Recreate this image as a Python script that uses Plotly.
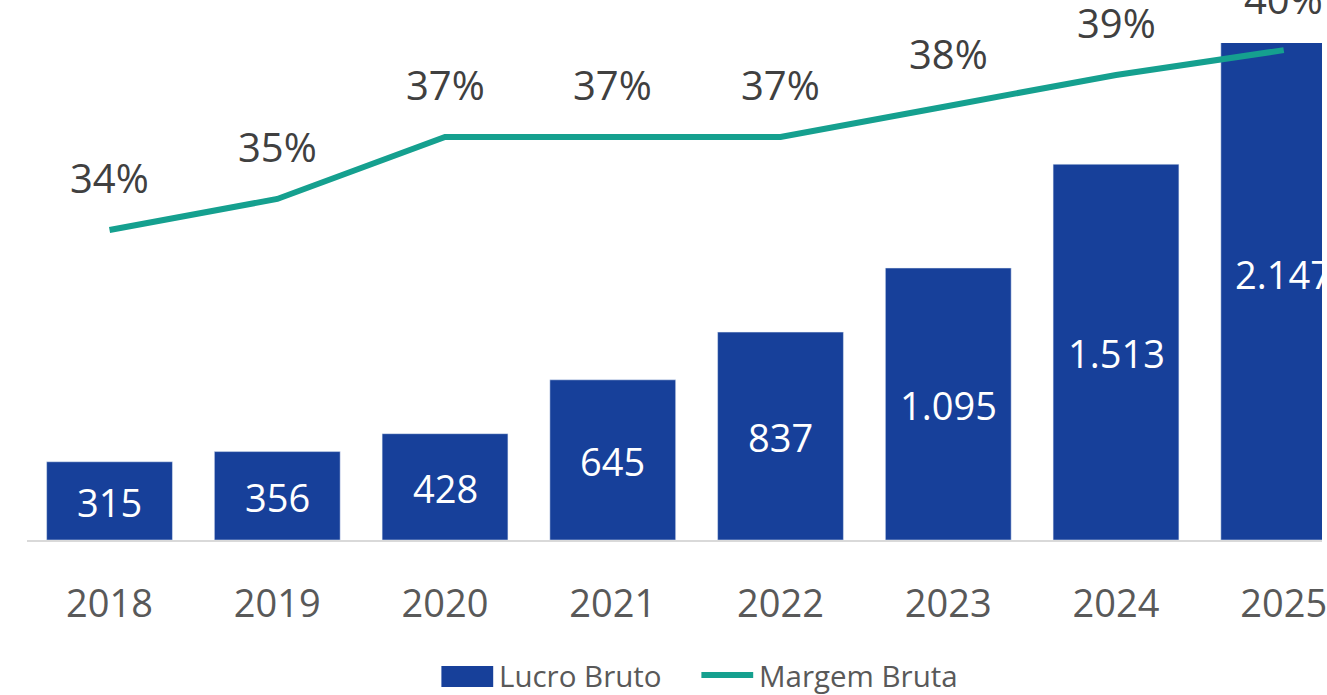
import plotly.graph_objects as go

years = ["2018", "2019", "2020", "2021", "2022", "2023", "2024", "2025"]
lucro_bruto = [315, 356, 428, 645, 837, 1095, 1513, 2147]
margem_bruta = [0.340, 0.350, 0.370, 0.370, 0.370, 0.380, 0.390, 0.398]

BAR = "#17409A"
LINE = "#15A08F"
W, H = 1327, 695
L, R, T, B = 27, 0, 43, 155
PW, PH = W - L - R, H - T - B

def px_x(p):
    return (p - L) / PW

def px_y(p):
    return (H - B - p) / PH

FONT = "Open Sans"

fig = go.Figure()
fig.add_trace(go.Bar(x=years, y=lucro_bruto, marker_color=BAR, width=0.75,
                     name="Lucro Bruto", showlegend=False, hoverinfo="skip"))
fig.add_trace(go.Scatter(x=years, y=margem_bruta, yaxis="y2", mode="lines",
                         line=dict(color=LINE, width=6), name="Margem Bruta",
                         showlegend=False, hoverinfo="skip", cliponaxis=False))

for i, v in enumerate(lucro_bruto):
    fig.add_annotation(x=i, y=v / 2, xref="x", yref="y", yshift=-1, showarrow=False,
                       text=f"{v:,}".replace(",", "."), yanchor="middle", xanchor="center",
                       font=dict(size=38, color="white", family=FONT))

for i, m in enumerate(margem_bruta):
    fig.add_annotation(x=i, y=m, xref="x", yref="y2", yshift=52, showarrow=False,
                       text=f"{round(m * 100)}%", yanchor="middle", xanchor="center",
                       font=dict(size=40, color="#404040", family=FONT))

# manual legend
fig.add_shape(type="rect", xref="paper", yref="paper", x0=px_x(443), x1=px_x(495),
              y0=px_y(666), y1=px_y(687), fillcolor=BAR, line_width=0)
fig.add_annotation(xref="paper", yref="paper", x=px_x(499), y=px_y(675), xanchor="left",
                   yanchor="middle", showarrow=False, text="Lucro Bruto",
                   font=dict(size=29.5, color="#595959", family=FONT))
fig.add_shape(type="line", xref="paper", yref="paper", x0=px_x(704), x1=px_x(756),
              y0=px_y(675), y1=px_y(675), line=dict(color=LINE, width=6))
fig.add_annotation(xref="paper", yref="paper", x=px_x(760), y=px_y(675), xanchor="left",
                   yanchor="middle", showarrow=False, text="Margem Bruta",
                   font=dict(size=29.5, color="#595959", family=FONT))

fig.update_layout(
    width=W, height=H, margin=dict(l=L, r=R, t=T, b=B),
    paper_bgcolor="white", plot_bgcolor="white",
    separators=",.", bargap=0.25,
    xaxis=dict(type="category", range=[-0.492, 7.228], showgrid=False, zeroline=False,
               showline=True, linecolor="#D9D9D9", linewidth=2, ticks="",
               ticklabelstandoff=29,
               tickfont=dict(size=38, color="#595959", family=FONT)),
    yaxis=dict(range=[0, 2001], visible=False, showgrid=False, zeroline=False),
    yaxis2=dict(range=[0.24, 0.4003], overlaying="y", visible=False,
                showgrid=False, zeroline=False),
    font=dict(family=FONT),
)

fig.write_html("out.html", config={"displayModeBar": False},
               post_script="document.body.style.margin='0';document.body.style.overflow='hidden';")
